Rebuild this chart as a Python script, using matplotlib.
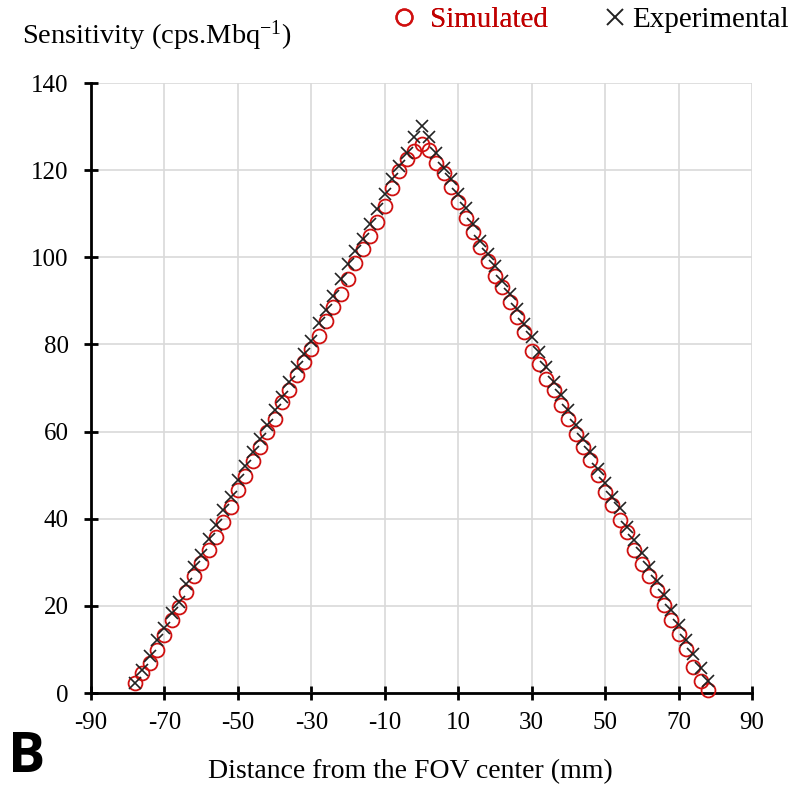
import matplotlib
matplotlib.use("Agg")
import matplotlib.pyplot as plt
from matplotlib.lines import Line2D

plt.rcParams['font.family'] = ['Liberation Serif', 'DejaVu Serif']
plt.rcParams['mathtext.fontset'] = 'custom'
plt.rcParams['mathtext.rm'] = 'Liberation Serif'
plt.rcParams['mathtext.it'] = 'Liberation Serif:italic'

# Data
distance = [-78, -76, -74, -72, -70, -68, -66, -64, -62, -60, -58, -56, -54, -52, -50,
            -48, -46, -44, -42, -40, -38, -36, -34, -32, -30, -28, -26, -24, -22, -20,
            -18, -16, -14, -12, -10, -8, -6, -4, -2, 0, 2, 4, 6, 8, 10, 12, 14, 16, 18,
            20, 22, 24, 26, 28, 30, 32, 34, 36, 38, 40, 42, 44, 46, 48, 50, 52, 54, 56,
            58, 60, 62, 64, 66, 68, 70, 72, 74, 76, 78]

simulated = [2.2, 4.6, 7.0, 9.9, 13.4, 16.8, 19.8, 23.1, 26.9, 29.8, 32.8, 35.9, 39.3,
             42.7, 46.6, 49.9, 53.2, 56.5, 59.9, 63.0, 66.8, 69.5, 72.9, 75.9, 79.0,
             82.0, 85.3, 88.5, 91.6, 95.0, 98.8, 101.9, 104.9, 108.0, 111.8, 116.0,
             119.8, 122.5, 124.3, 125.9, 124.6, 121.7, 119.4, 116.2, 112.6, 109.1,
             105.7, 102.3, 99.2, 95.8, 93.1, 89.7, 86.2, 82.8, 78.6, 75.6, 72.1, 69.5,
             66.0, 63.0, 59.5, 56.5, 53.4, 50.0, 46.2, 43.1, 39.7, 37.0, 32.8, 29.7,
             26.9, 23.6, 20.2, 16.8, 13.6, 10.1, 6.0, 2.7, 0.6]

experimental = [2.4, 5.3, 8.4, 12.2, 14.9, 18.3, 21.0, 25.0, 29.0, 31.7, 35.3, 38.5,
                42.0, 45.0, 48.8, 52.0, 55.3, 58.4, 61.4, 64.9, 67.9, 71.4, 74.8, 77.9,
                80.9, 84.9, 87.8, 91.2, 95.0, 98.5, 101.5, 104.2, 107.6, 111.1, 114.5,
                117.9, 121.0, 124.0, 127.6, 130.1, 127.6, 124.0, 120.6, 118.0, 114.6,
                111.4, 107.6, 103.8, 100.8, 98.1, 94.6, 91.6, 88.2, 84.7, 81.7, 78.2,
                74.8, 71.4, 68.3, 64.9, 61.4, 58.4, 55.3, 51.5, 48.1, 45.0, 42.4, 38.2,
                35.1, 32.1, 29.0, 25.6, 22.5, 19.1, 15.6, 12.2, 8.9, 5.7, 2.7]

x_ticks = [-90, -70, -50, -30, -10, 10, 30, 50, 70, 90]
y_ticks = [0, 20, 40, 60, 80, 100, 120, 140]

W, H = 799, 788
fig = plt.figure(figsize=(W / 100, H / 100), dpi=100)
L, R, B, T = 91, 752, 693, 83
ax = fig.add_axes([L / W, 1 - B / H, (R - L) / W, (B - T) / H])

red = '#d01010'
ax.plot(distance, simulated, linestyle='none', marker='o', markersize=10,
        markerfacecolor='none', markeredgecolor=red, markeredgewidth=1.3,
        label='Simulated', clip_on=False, zorder=3)
ax.plot(distance, experimental, linestyle='none', marker='x', markersize=8.5,
        color='#222222', markeredgewidth=1.2, label='Experimental',
        clip_on=False, zorder=4)

ax.set_xlim(-90, 90)
ax.set_ylim(0, 140)
ax.set_xticks(x_ticks)
ax.set_yticks(y_ticks)
ax.set_xticklabels([str(v) for v in x_ticks])
ax.grid(True, color='#d9d9d9', linewidth=1.2)
ax.set_axisbelow(True)
for s in ['top', 'right']:
    ax.spines[s].set_visible(False)
for s in ['left', 'bottom']:
    ax.spines[s].set_linewidth(2)
    ax.spines[s].set_color('black')
ax.tick_params(axis='both', direction='inout', length=10, width=2,
               labelsize=18, colors='black')
ax.tick_params(axis='x', pad=9)
ax.tick_params(axis='y', pad=11)

ax.set_xlabel('Distance from the FOV center (mm)', fontsize=20)
ax.xaxis.set_label_coords((410 - L) / (R - L), (B - 759) / (B - T))

fig.text(22 / W, 1 - 36 / H, 'Sensitivity (cps.Mbq$^{\\mathrm{-1}}$)',
         fontsize=20.5, ha='left', va='center')

fig.text(8 / W, 1 - 758 / H, 'B', fontsize=40, fontweight='bold',
         family='Open Sans', ha='left', va='center')

# Legend: two entries placed separately to match the reference spacing
fs = 21
h_len = 0.8
sim_handle = Line2D([], [], linestyle='none', marker='o', markersize=11.5,
                    markerfacecolor='none', markeredgecolor=red, markeredgewidth=1.6)
exp_handle = Line2D([], [], linestyle='none', marker='x', markersize=11.5,
                    color='#222222', markeredgewidth=1.4)
px_per_em = fs * 100 / 72.0
half_handle = h_len * px_per_em / 2

leg1 = fig.legend([sim_handle], ['Simulated'], loc='center left',
                  bbox_to_anchor=((403.5 - half_handle) / W, 1 - 19.5 / H),
                  frameon=False, fontsize=fs, handlelength=h_len,
                  handletextpad=0.51, labelcolor=['#c00000'],
                  borderaxespad=0, borderpad=0)
leg2 = fig.legend([exp_handle], ['Experimental'], loc='center left',
                  bbox_to_anchor=((614.5 - half_handle) / W, 1 - 19.5 / H),
                  frameon=False, fontsize=fs, handlelength=h_len,
                  handletextpad=0.2, labelcolor=['black'],
                  borderaxespad=0, borderpad=0)
fig.add_artist(leg1)

fig.savefig('out.png', dpi=100)
